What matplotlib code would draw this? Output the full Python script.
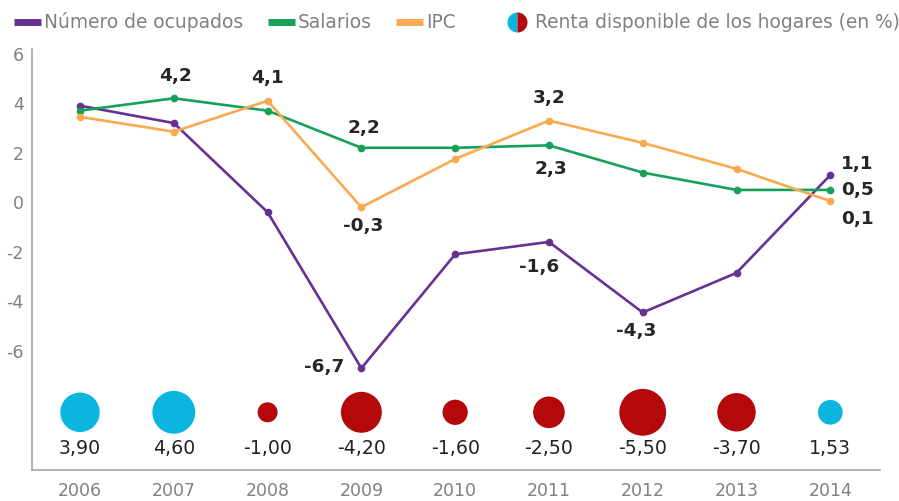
import matplotlib
matplotlib.use("Agg")
import matplotlib.pyplot as plt
import numpy as np

plt.rcParams["axes.unicode_minus"] = False

years = ["2006", "2007", "2008", "2009", "2010", "2011", "2012", "2013", "2014"]
ocupados = [3.9, 3.2, -0.4, -6.7, -2.1, -1.6, -4.45, -2.85, 1.1]
salarios = [3.7, 4.2, 3.7, 2.2, 2.2, 2.3, 1.2, 0.5, 0.5]
ipc = [3.45, 2.85, 4.1, -0.2, 1.75, 3.3, 2.4, 1.35, 0.05]
renta = [3.90, 4.60, -1.00, -4.20, -1.60, -2.50, -5.50, -3.70, 1.53]

# (serie, year index, label, offset in px)
labels = [
    ("sal", 1, "4,2", (2, 22)),
    ("ipc", 2, "4,1", (0, 23)),
    ("sal", 3, "2,2", (3, 20)),
    ("ipc", 3, "-0,3", (2, -19)),
    ("ocu", 3, "-6,7", (-37, 1)),
    ("ipc", 5, "3,2", (0, 23)),
    ("sal", 5, "2,3", (2, -24)),
    ("ocu", 5, "-1,6", (-10, -25)),
    ("ocu", 6, "-4,3", (-7, -19)),
    ("ocu", 8, "1,1", (27, 11)),
    ("sal", 8, "0,5", (27, 0)),
    ("ipc", 8, "0,1", (27, -18)),
]

PURPLE = "#673192"
GREEN = "#17a05a"
ORANGE = "#f9aa4f"
BLUE = "#0bb5e0"
RED = "#b3090a"
GREY = "#808080"

series = {"ocu": (ocupados, PURPLE), "sal": (salarios, GREEN), "ipc": (ipc, ORANGE)}

fig = plt.figure(figsize=(8.99, 5.01), dpi=100)
ax = fig.add_axes([32 / 899, 31 / 501, 848 / 899, 421 / 501])

x = np.arange(len(years))
for key in ["ocu", "sal", "ipc"]:
    vals, col = series[key]
    ax.plot(x, vals, color=col, lw=1.9, marker="o", ms=4.5, mec=col, zorder=3)

# bubbles for renta disponible
bubble_y = -8.48
sizes = [207 * abs(v) for v in renta]
cols = [BLUE if v > 0 else RED for v in renta]
ax.scatter(x, [bubble_y] * len(x), s=sizes, c=cols, linewidths=0, zorder=3)
for i, v in enumerate(renta):
    ax.text(i, -9.95, f"{v:.2f}".replace(".", ","), ha="center", va="center",
            fontsize=13.6, color="#222222")

for key, i, txt, off in labels:
    vals, col = series[key]
    ax.annotate(txt, (i, vals[i]), xytext=(off[0] * 0.72, off[1] * 0.72),
                textcoords="offset points", ha="center", va="center",
                fontsize=13.3, fontweight="bold", color="#262626", zorder=4)

ax.set_xlim(-0.512, 8.53)
ax.set_ylim(-10.81, 6.19)
ax.set_yticks(range(-6, 7, 2))
ax.set_xticks(x)
ax.set_xticklabels(years)
ax.tick_params(axis="both", length=0, labelsize=12.5, labelcolor=GREY)
ax.tick_params(axis="y", pad=6)
ax.tick_params(axis="x", pad=9)
for s in ["top", "right"]:
    ax.spines[s].set_visible(False)
for s in ["left", "bottom"]:
    ax.spines[s].set_color("#a6a6a6")
    ax.spines[s].set_linewidth(1.2)

# legend drawn in figure pixel space
lg = fig.add_axes([0, 0, 1, 1], facecolor="none")
lg.set_xlim(0, 899)
lg.set_ylim(501, 0)
lg.axis("off")
ly = 22
for x0, col, txt in [(14, PURPLE, "Número de ocupados"), (268, GREEN, "Salarios"), (396, ORANGE, "IPC")]:
    lg.plot([x0, x0 + 27], [ly, ly], color=col, lw=5, solid_capstyle="butt")
    lg.text(x0 + 30, ly, txt, ha="left", va="center", fontsize=13.4, color=GREY)
lg.plot([516.5], [ly], marker="o", ms=14.4, fillstyle="left", mfc=BLUE, mfcalt=RED, mew=0)
lg.text(535, ly, "Renta disponible de los hogares (en %)", ha="left", va="center",
        fontsize=13.4, color=GREY)

fig.savefig("out.png", dpi=100)
